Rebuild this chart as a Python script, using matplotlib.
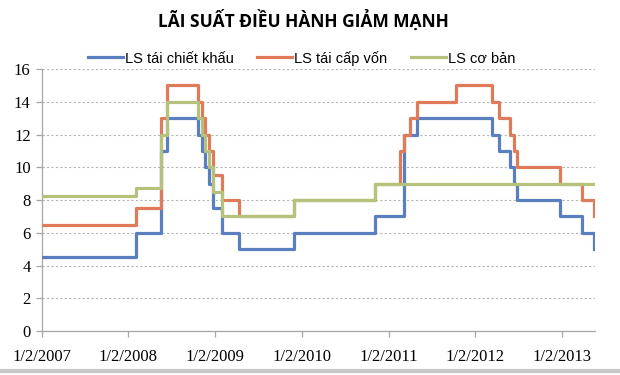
import numpy as np
import matplotlib
matplotlib.use('Agg')
import matplotlib.pyplot as plt
from matplotlib.lines import Line2D

# LS tai chiet khau
ck_dates = ['2007-01-02', '2008-02-01', '2008-05-19', '2008-06-11', '2008-10-21',
            '2008-11-05', '2008-11-21', '2008-12-05', '2008-12-22', '2009-02-01',
            '2009-04-10', '2009-12-01', '2010-11-05', '2011-03-07', '2011-05-01',
            '2012-03-13', '2012-04-11', '2012-05-25', '2012-06-11', '2012-06-25',
            '2012-12-24', '2013-03-26', '2013-05-13']
ck_values = [4.5, 6, 11, 13, 12, 11, 10, 9, 7.5, 6, 5, 6, 7, 12, 13,
             12, 11, 10, 9, 8, 7, 6, 5]

# LS tai cap von
cv_dates = ['2007-01-02', '2008-02-01', '2008-05-19', '2008-06-11', '2008-10-21',
            '2008-11-05', '2008-11-21', '2008-12-05', '2008-12-22', '2009-02-01',
            '2009-04-10', '2009-12-01', '2010-11-05', '2011-02-17', '2011-03-07',
            '2011-04-01', '2011-05-01', '2011-10-10', '2012-03-13', '2012-04-11',
            '2012-05-28', '2012-06-11', '2012-06-25', '2012-12-24', '2013-03-26',
            '2013-05-13']
cv_values = [6.5, 7.5, 13, 15, 14, 13, 12, 11, 9.5, 8, 7, 8, 9, 11, 12,
             13, 14, 15, 14, 13, 12, 11, 10, 9, 8, 7]

# LS co ban
cb_dates = ['2007-01-02', '2008-02-01', '2008-05-19', '2008-06-11', '2008-10-21',
            '2008-11-05', '2008-11-21', '2008-12-05', '2008-12-22', '2009-02-01',
            '2009-12-01', '2010-11-05']
cb_values = [8.25, 8.75, 12, 14, 13, 12, 11, 10, 8.5, 7, 8, 9]

last_date = '2013-05-16'
x_start = '2007-01-02'
x_end = '2013-05-20'
tick_years = [2007, 2008, 2009, 2010, 2011, 2012, 2013]

series = [
    ('LS tái chiết khấu', ck_dates, ck_values, '#5a7fbf'),
    ('LS tái cấp vốn', cv_dates, cv_values, '#e07b59'),
    ('LS cơ bản', cb_dates, cb_values, '#b4c27c'),
]

fig = plt.figure(figsize=(6.2, 3.75), dpi=100)
ax = fig.add_axes([0.0673, 0.1173, 0.8927, 0.6987])

for i, (name, d, v, c) in enumerate(series):
    x = np.array(d + [last_date], dtype='datetime64[D]')
    y = v + [v[-1]]
    ax.step(x, y, where='post', color=c, lw=2.3, label=name, zorder=3 + i)

ax.set_xlim(np.datetime64(x_start), np.datetime64(x_end))
ax.set_ylim(0, 16)
ax.set_yticks(range(0, 17, 2))
ticks = [np.datetime64('%d-01-02' % yr) for yr in tick_years]
ax.set_xticks(ticks)
ax.set_xticklabels(['1/2/%d' % yr for yr in tick_years])

ax.grid(axis='y', color='#b5b5b5', linestyle=(0, (2, 2)), lw=0.8)
ax.set_axisbelow(True)
for s in ['top', 'right']:
    ax.spines[s].set_visible(False)
for s in ['left', 'bottom']:
    ax.spines[s].set_color('#a6a6a6')
    ax.spines[s].set_linewidth(0.9)
ax.tick_params(axis='both', color='#a6a6a6', length=4, width=0.9,
               labelsize=12, pad=4)
for lab in ax.get_xticklabels() + ax.get_yticklabels():
    lab.set_family('Liberation Serif')
ax.tick_params(axis='x', pad=9)

fig.text(0.49, 0.945, 'LÃI SUẤT ĐIỀU HÀNH GIẢM MẠNH', ha='center', va='center',
         fontsize=12.5, fontweight='bold', family=['Open Sans', 'DejaVu Sans'])

leg = fig.legend(loc='center', bbox_to_anchor=(0.486, 0.845), ncol=3, frameon=False,
                 handlelength=2.4, handletextpad=0.15, columnspacing=1.6,
                 prop={'family': ['Liberation Sans Narrow', 'Liberation Sans'], 'size': 10.5})

fig.add_artist(Line2D([0, 1], [0.012, 0.012], color='#c8c8c8', lw=3))

fig.savefig('out.png', dpi=100)
